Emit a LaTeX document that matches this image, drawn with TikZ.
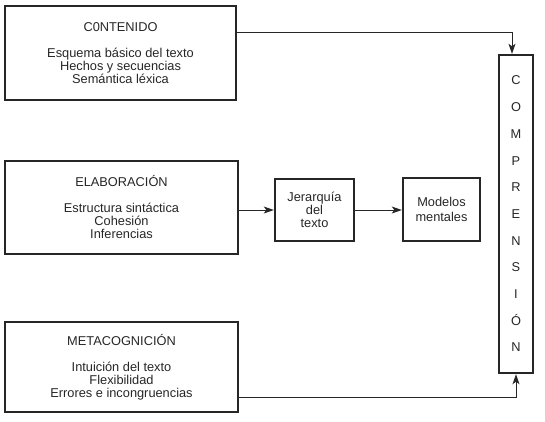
\documentclass[tikz,border=0pt]{standalone}
\usepackage{fontspec}
\setmainfont{Liberation Sans}
\usetikzlibrary{arrows.meta}
\usetikzlibrary{positioning}

\begin{document}
\begin{tikzpicture}[x=1pt, y=-1pt, thick, font=\fontsize{12.8}{13}\selectfont, text=black!85,
  main/.style = {draw=black!85, line width=2.4pt, rectangle, align=center, inner sep=0pt},
  big/.style = {main, minimum width=233pt},
  arr/.style = {draw=black!85, line width=1pt, -{Stealth[length=10pt, width=7pt, inset=2.5pt]}}]
		\useasboundingbox (0,0) rectangle (545,421);
		\node[big, minimum width=231pt, minimum height=94pt] (cont) at (120.5, 53) {C0NTENIDO\\[13pt] Esquema básico del texto\\ Hechos y secuencias\\ Semántica léxica};
		\node[big, minimum height=93pt] (elab) at (121.5, 207.5) {ELABORACIÓN\\[13pt] Estructura sintáctica\\ Cohesión\\ Inferencias};
		\node[big, minimum height=90pt] (meta) at (121.5, 367) {METACOGNICIÓN\\[13pt] Intuición del texto\\ Flexibilidad\\ Errores e incongruencias};
		\node[main, minimum width=79pt, minimum height=62pt] (jer) at (314.5, 210) {Jerarquía\\ del\\ texto};
		\node[main, minimum width=77pt, minimum height=63pt] (mod) at (441.5, 209.5) {Modelos\\[2pt] mentales};
		\node[main, minimum width=34pt, minimum height=318pt, font=\fontsize{12.8}{26.7}\selectfont] (comp) at (516, 214) {C\\O\\M\\P\\R\\E\\N\\S\\I\\Ó\\N};
		\draw[arr] (cont.east |- 0,32) -| ([xshift=-4pt]comp.north);
		\draw[arr] (elab.east |- jer) -- (jer);
		\draw[arr] (jer.east) -- (mod.west |- jer.east);
		\draw[arr] (meta.east |- 0,397) -| (comp.south);
	\end{tikzpicture}
\end{document}
